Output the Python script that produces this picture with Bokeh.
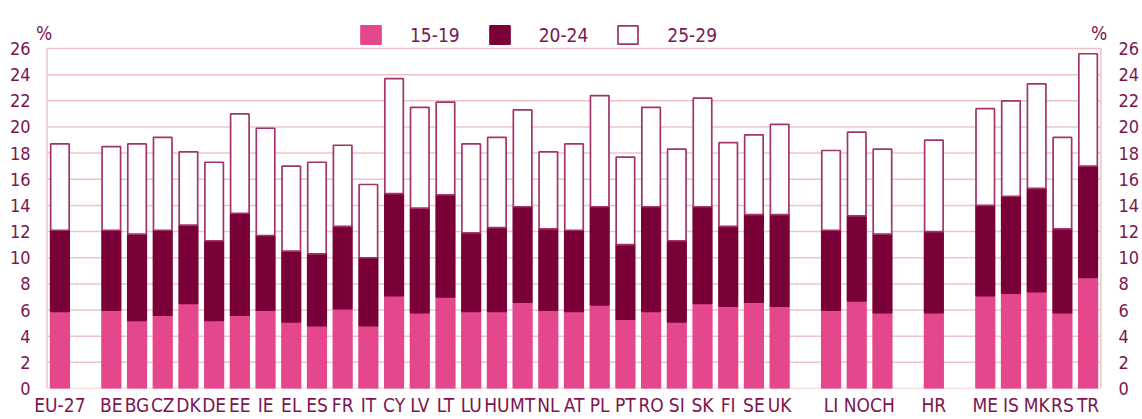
from bokeh.plotting import figure
from bokeh.models import (ColumnDataSource, FactorRange, Range1d, LinearAxis,
                          FixedTicker, Legend, LegendItem, Label)
from bokeh.embed import file_html
from bokeh.resources import INLINE

# ---- data (share of population, %) ----
groups = [
    ["EU-27"],
    ["BE", "BG", "CZ", "DK", "DE", "EE", "IE", "EL", "ES", "FR", "IT", "CY", "LV",
     "LT", "LU", "HU", "MT", "NL", "AT", "PL", "PT", "RO", "SI", "SK", "FI", "SE", "UK"],
    ["LI", "NO", "CH"],
    ["HR"],
    ["ME", "IS", "MK", "RS", "TR"],
]
countries = [c for g in groups for c in g]

age_15_19 = [5.9, 6.0, 5.2, 5.6, 6.5, 5.2, 5.6, 6.0, 5.1, 4.8, 6.1, 4.8, 7.1, 5.8,
             7.0, 5.9, 5.9, 6.6, 6.0, 5.9, 6.4, 5.3, 5.9, 5.1, 6.5, 6.3, 6.6, 6.3,
             6.0, 6.7, 5.8, 5.8, 7.1, 7.3, 7.4, 5.8, 8.5]
age_20_24 = [6.2, 6.1, 6.6, 6.5, 6.0, 6.1, 7.8, 5.7, 5.4, 5.5, 6.3, 5.2, 7.8, 8.0,
             7.8, 6.0, 6.4, 7.3, 6.2, 6.2, 7.5, 5.7, 8.0, 6.2, 7.4, 6.1, 6.7, 7.0,
             6.1, 6.5, 6.0, 6.2, 6.9, 7.4, 7.9, 6.4, 8.5]
age_25_29 = [6.6, 6.4, 6.9, 7.1, 5.6, 6.0, 7.6, 8.2, 6.5, 7.0, 6.2, 5.6, 8.8, 7.7,
             7.1, 6.8, 6.9, 7.4, 5.9, 6.6, 8.5, 6.7, 7.6, 7.0, 8.3, 6.4, 6.1, 6.9,
             6.1, 6.4, 6.5, 7.0, 7.4, 7.3, 8.0, 7.0, 8.6]

series_names = ["15-19", "20-24", "25-29"]
y_ticks = list(range(0, 27, 2))

# ---- styling ----
FONT = "DejaVu Sans Condensed"
TXT = "#7b1650"
PINK = "#e5478d"
DARK = "#7a0038"
OUTLINE = "#a0346b"
GRID = "#efc4c8"

W, H = 1142, 419
FRAME_BOTTOM = 388          # px from top of canvas where y = 0 sits
PX_PER_UNIT = 340 / 26

# factor list with blank spacers between groups
factors = []
for i, g in enumerate(groups):
    if i > 0:
        factors.append(" " * i)
    factors.extend(g)
n_slots = len(factors)

src = ColumnDataSource(dict(country=countries, a=age_15_19, b=age_20_24, c=age_25_29))

p = figure(width=W, height=H, output_backend="svg", toolbar_location=None,
           x_range=FactorRange(factors=factors, range_padding=0.45,
                               range_padding_units="absolute"),
           y_range=Range1d(0, FRAME_BOTTOM / PX_PER_UNIT),
           min_border_left=35, min_border_right=27, min_border_top=0,
           min_border_bottom=H - FRAME_BOTTOM)

p.outline_line_color = None
p.background_fill_color = "white"
p.border_fill_color = "white"
p.xgrid.grid_line_color = None
p.ygrid.grid_line_color = None

# plot-area grid and side borders (span only the 0..26 value area)
p.segment(x0=[0] * len(y_ticks), x1=[n_slots] * len(y_ticks), y0=y_ticks, y1=y_ticks,
          line_color=GRID, line_width=1.5)
p.segment(x0=[0, n_slots], x1=[0, n_slots], y0=[0, 0], y1=[y_ticks[-1]] * 2,
          line_color=GRID, line_width=1.5)

rs = p.vbar_stack(["a", "b", "c"], x="country", width=0.72, source=src,
                  fill_color=[PINK, DARK, "white"],
                  line_color=[PINK, DARK, OUTLINE], line_width=1.7)

def style_axis(ax, standoff, size):
    ax.axis_line_color = None
    ax.major_tick_line_color = None
    ax.minor_tick_line_color = None
    ax.major_tick_in = 0
    ax.major_tick_out = 0
    ax.major_label_standoff = standoff
    ax.major_label_text_font = FONT
    ax.major_label_text_font_size = size
    ax.major_label_text_color = TXT

p.yaxis.ticker = FixedTicker(ticks=y_ticks)
style_axis(p.yaxis[0], 5, "18px")
right = LinearAxis(ticker=FixedTicker(ticks=y_ticks))
style_axis(right, 6, "18px")
p.add_layout(right, "right")
style_axis(p.xaxis[0], 5, "19px")

legend = Legend(items=[LegendItem(label=n, renderers=[r]) for n, r in zip(series_names, rs)],
                orientation="horizontal", location=(323, 342),
                glyph_width=25, glyph_height=23, label_standoff=27, spacing=27,
                padding=6, margin=0, border_line_color=None, background_fill_alpha=0,
                label_text_font=FONT, label_text_font_size="19px", label_text_color=TXT)
p.add_layout(legend)

for xpos, xo in ((0, -11), (n_slots, -10)):
    p.add_layout(Label(x=xpos, y=y_ticks[-1], x_offset=xo, y_offset=5, text="%",
                       text_font=FONT, text_font_size="19px", text_color=TXT,
                       text_baseline="bottom", text_align="left"))

open("out.html", "w").write(file_html(p, INLINE))
